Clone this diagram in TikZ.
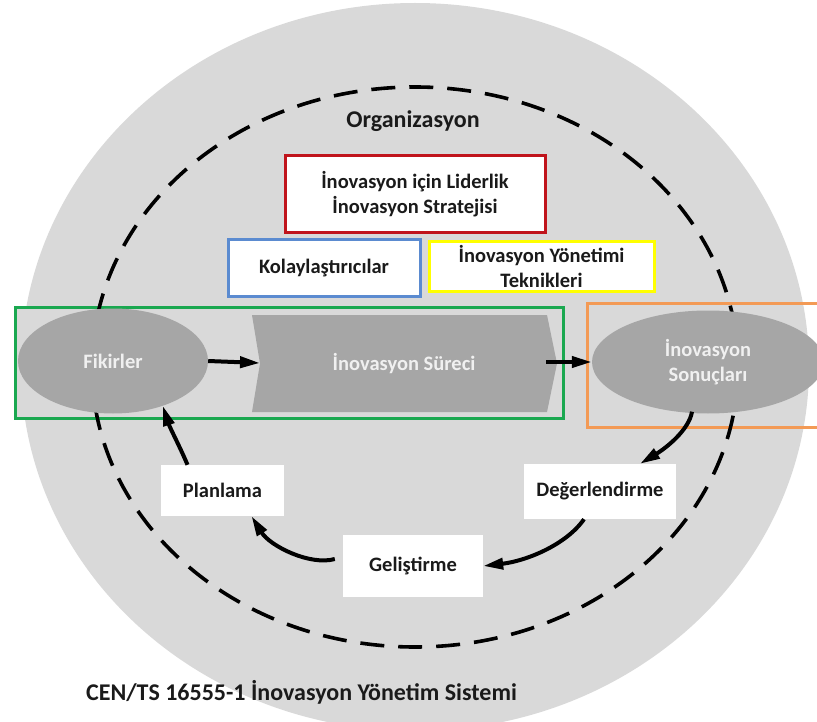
\documentclass[tikz,border=0pt]{standalone}
\usepackage{fontspec}
\setmainfont{Carlito}
\usetikzlibrary{shapes.geometric,arrows.meta}
\definecolor{bggray}{HTML}{D9D9D9}
\definecolor{midgray}{HTML}{A6A6A6}
\definecolor{lighttxt}{HTML}{F0F0F0}
\definecolor{txt}{HTML}{1A1A1A}
\definecolor{cred}{HTML}{C0141C}
\definecolor{cblue}{HTML}{5B8BD0}
\definecolor{cyellow}{HTML}{FFFF00}
\definecolor{cgreen}{HTML}{1AA850}
\definecolor{corange}{HTML}{F39A55}
\tikzset{
  base/.style={font=\bfseries\fontsize{20.5}{25}\selectfont, text=txt, align=center, inner sep=0pt},
  bigtxt/.style={font=\bfseries\fontsize{24}{28}\selectfont, text=txt, inner sep=0pt},
  grayell/.style={base, ellipse, fill=midgray, text=lighttxt},
  whitebox/.style={base, rectangle, fill=white},
  framebox/.style={base, rectangle, fill=white, draw=#1, line width=3pt},
  arr/.style={line width=4pt, -{Triangle[length=20pt,width=11pt]}},
}
\begin{document}
\begin{tikzpicture}[x=1pt,y=-1pt]
\useasboundingbox (0,0) rectangle (817,722);
\clip (0,0) rectangle (817,722);
% background circle
\fill[bggray] (415,367) ellipse [x radius=394pt, y radius=364pt];
% green and orange frames
\draw[cgreen, line width=3pt, fill=bggray] (15,307) rectangle (563,418);
\draw[corange, line width=3pt] (587,303) rectangle (830,427);
% dashed organisation boundary
\draw[line width=3.6pt, dash pattern=on 24pt off 14pt] (415,367) ellipse [x radius=323pt, y radius=280pt];
% title
\node[bigtxt] (org) at (413,121) {Organizasyon};
% top boxes
\node[framebox=cred, minimum width=260pt, minimum height=77pt] (lead) at (415,194.5) {İnovasyon için Liderlik\\İnovasyon Stratejisi};
\node[framebox=cblue, minimum width=192pt, minimum height=57pt] (kol) at (324,268.5) {Kolaylaştırıcılar};
\node[framebox=cyellow, minimum width=225pt, minimum height=50pt] (tek) at (541.5,267) {İnovasyon Yönetimi\\Teknikleri};
% process row
\node[grayell, minimum width=190pt, minimum height=105pt] (fik) at (113,361) {Fikirler};
\fill[midgray] (252,315) -- (547,315) -- (557,363.5) -- (547,412) -- (252,412) -- (260,363.5) -- cycle;
\coordinate (procin) at (260,363);
\coordinate (procout) at (546,362);
\node[base, text=lighttxt] (proc) at (404,364) {İnovasyon Süreci};
\node[grayell, minimum width=232pt, minimum height=103pt] (son) at (708,362) {İnovasyon\\Sonuçları};
% cycle boxes
\node[whitebox, minimum width=123pt, minimum height=51pt] (plan) at (222.5,490.5) {Planlama};
\node[whitebox, minimum width=152pt, minimum height=55pt] (deg) at (600,491.5) {Değerlendirme};
\node[whitebox, minimum width=140pt, minimum height=62pt] (gel) at (413,566) {Geliştirme};
% arrows
\draw[arr] (fik.east) -- (procin);
\draw[arr] (procout) -- (son.west);
\draw[arr] ([xshift=-16pt,yshift=2pt]son.south) .. controls (689,430) and (666,448) .. ([xshift=40pt]deg.north);
\draw[arr] ([xshift=-16pt]deg.south) .. controls (566,545) and (526,561) .. (gel.east);
\draw[arr] ([xshift=-8pt,yshift=7pt]gel.west) .. controls (310,566) and (270,546) .. ([xshift=29pt]plan.south);
\draw[arr] ([xshift=-35pt]plan.north) .. controls (180,447) and (170,428) .. (fik.-42);
% bottom caption
\node[bigtxt, anchor=west] (cap) at (86,692) {CEN/TS 16555-1 İnovasyon Yönetim Sistemi};
\end{tikzpicture}
\end{document}
